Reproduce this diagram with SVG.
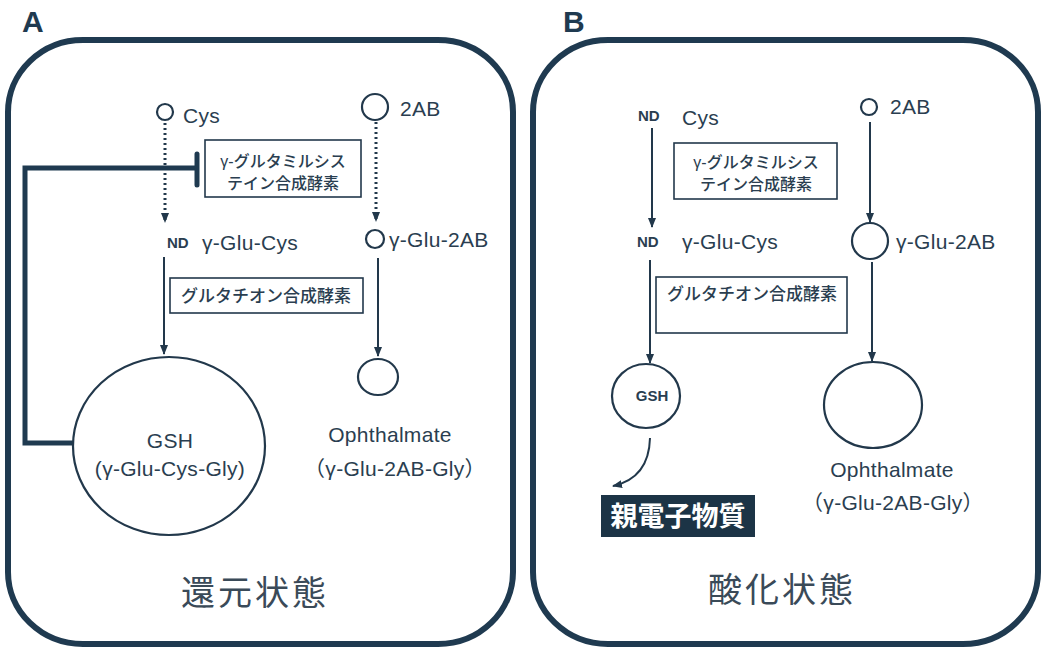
<svg xmlns="http://www.w3.org/2000/svg" width="1048" height="648" viewBox="0 0 1048 648">
<style>
text{font-family:"Liberation Sans","Noto Sans CJK JP",sans-serif;fill:#2a3e50}
.lbl{font-size:21px;letter-spacing:0.3px}
.nd{font-size:15px;font-weight:bold}
.jp{font-size:16px;font-weight:500}
.big{font-size:34px;letter-spacing:3px;fill:#3a4a58}
.panel{fill:none;stroke:#1f3a50;stroke-width:6}
.node{fill:#fff;stroke:#22384b;stroke-width:2.2}
.box{fill:#fff;stroke:#22384b;stroke-width:1.6}
.ln{stroke:#22384b;stroke-width:2;fill:none}
.dot{stroke:#22384b;stroke-width:3;stroke-dasharray:2 3;fill:none}
.inh{stroke:#1f3a50;stroke-width:5;fill:none}
</style>
<defs>
<marker id="arr" markerWidth="10" markerHeight="10" viewBox="0 0 10 10" refX="9" refY="5" orient="auto" markerUnits="userSpaceOnUse">
<path d="M0,1 L10,5 L0,9 Z" fill="#22384b"/>
</marker>
</defs>
<g id="panelA">
<rect class="panel" x="8" y="40" width="505" height="604" rx="75" ry="72"/>
<text x="22" y="32" style="font-size:30px;font-weight:bold;fill:#1f3a50">A</text>
<text class="big" x="255" y="605" text-anchor="middle">還元状態</text>
</g>
<g id="panelB">
<rect class="panel" x="533" y="40" width="505" height="604" rx="75" ry="72"/>
<text x="563" y="32" style="font-size:30px;font-weight:bold;fill:#1f3a50">B</text>
<text class="big" x="782" y="602" text-anchor="middle">酸化状態</text>
</g>
<g id="connectors">
<line class="dot" x1="165" y1="123" x2="165" y2="222" marker-end="url(#arr)"/>
<line class="dot" x1="376" y1="122" x2="376" y2="221" marker-end="url(#arr)"/>
<line class="ln" x1="164" y1="257" x2="164" y2="354" marker-end="url(#arr)"/>
<line class="ln" x1="378" y1="258" x2="378" y2="356" marker-end="url(#arr)"/>
<polyline class="inh" points="73,443 25,443 25,168 197,168"/>
<line class="inh" x1="197" y1="154" x2="197" y2="185" stroke-linecap="round"/>
<line class="ln" x1="652" y1="128" x2="652" y2="227" marker-end="url(#arr)"/>
<line class="ln" x1="870" y1="122" x2="870" y2="222" marker-end="url(#arr)"/>
<line class="ln" x1="650" y1="260" x2="650" y2="363" marker-end="url(#arr)"/>
<line class="ln" x1="872" y1="262" x2="872" y2="361" marker-end="url(#arr)"/>
<path class="ln" d="M650,438 Q649,478 613,486" marker-end="url(#arr)"/>
</g>
<g id="A-cys">
<circle class="node" cx="165" cy="112" r="8"/>
<text class="lbl" x="183" y="123">Cys</text>
</g>
<g id="A-2ab">
<circle class="node" cx="375" cy="107" r="13"/>
<text class="lbl" x="400" y="116">2AB</text>
</g>
<g id="A-enz1">
<rect class="box" x="205" y="140" width="156" height="57"/>
<text class="jp" x="283" y="167" text-anchor="middle">γ-グルタミルシス</text>
<text class="jp" x="283" y="189" text-anchor="middle">テイン合成酵素</text>
</g>
<g id="A-gglucys">
<text class="nd" x="167" y="248">ND</text>
<text class="lbl" x="202" y="250">γ-Glu-Cys</text>
</g>
<g id="A-gglu2ab">
<circle class="node" cx="375" cy="239" r="9"/>
<text class="lbl" x="389" y="247">γ-Glu-2AB</text>
</g>
<g id="A-enz2">
<rect class="box" x="170" y="278" width="193" height="35"/>
<text class="jp" x="266" y="302" text-anchor="middle" style="font-size:17px">グルタチオン合成酵素</text>
</g>
<g id="A-gsh">
<ellipse class="node" cx="169" cy="446" rx="96" ry="89"/>
<text class="lbl" x="170" y="448" text-anchor="middle">GSH</text>
<text class="lbl" x="170" y="476" text-anchor="middle">(γ-Glu-Cys-Gly)</text>
</g>
<g id="A-oph">
<ellipse class="node" cx="378" cy="377" rx="20" ry="18"/>
<text class="lbl" x="390" y="442" text-anchor="middle">Ophthalmate</text>
<text class="lbl" x="395" y="476" text-anchor="middle">（γ-Glu-2AB-Gly）</text>
</g>
<g id="B-cys">
<text class="nd" x="638" y="121">ND</text>
<text class="lbl" x="682" y="125">Cys</text>
</g>
<g id="B-2ab">
<circle class="node" cx="869" cy="107" r="8"/>
<text class="lbl" x="890" y="114">2AB</text>
</g>
<g id="B-enz1">
<rect class="box" x="674" y="143" width="163" height="56"/>
<text class="jp" x="756" y="168" text-anchor="middle">γ-グルタミルシス</text>
<text class="jp" x="756" y="190" text-anchor="middle">テイン合成酵素</text>
</g>
<g id="B-gglucys">
<text class="nd" x="637" y="247">ND</text>
<text class="lbl" x="682" y="249">γ-Glu-Cys</text>
</g>
<g id="B-gglu2ab">
<circle class="node" cx="870" cy="241" r="18"/>
<text class="lbl" x="896" y="249">γ-Glu-2AB</text>
</g>
<g id="B-enz2">
<rect class="box" x="656" y="277" width="191" height="56"/>
<text class="jp" x="752" y="300" text-anchor="middle" style="font-size:17px">グルタチオン合成酵素</text>
</g>
<g id="B-gsh">
<ellipse class="node" cx="646" cy="396" rx="34" ry="32"/>
<text x="652" y="401" text-anchor="middle" style="font-size:15px;font-weight:bold">GSH</text>
</g>
<g id="B-oph">
<ellipse class="node" cx="873" cy="405" rx="49" ry="43"/>
<text class="lbl" x="892" y="477" text-anchor="middle">Ophthalmate</text>
<text class="lbl" x="893" y="510" text-anchor="middle">（γ-Glu-2AB-Gly）</text>
</g>
<g id="B-electrophile">
<rect x="601" y="495" width="154" height="42" fill="#1c3446"/>
<text x="678" y="526" text-anchor="middle" style="font-size:27px;font-weight:bold;fill:#fff">親電子物質</text>
</g>
</svg>
